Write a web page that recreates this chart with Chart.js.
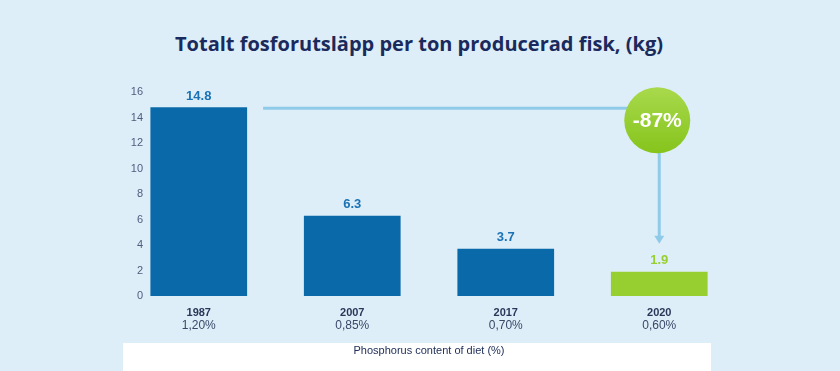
<!DOCTYPE html>
<html lang="sv">
<head>
  <meta charset="UTF-8" />
  <title>Totalt fosforutsläpp</title>
  <script src="https://cdn.jsdelivr.net/npm/chart.js"></script>
  <style>
    body { margin: 0; background: #ddeef8; }
    .wrap { position: relative; width: 840px; height: 371px; }
    h1 {
      position: absolute; left: 0; top: 30px; width: 838px; margin: 0;
      text-align: center; font: bold 20px "Open Sans", sans-serif; line-height: 28px;
      color: #1b2a5c;
    }
    /* vit ruta bakom axeltiteln */
    .note-box { position: absolute; left: 123px; top: 343px; width: 588px; height: 28px; background: #ffffff; }
    canvas { position: absolute; left: 0; top: 0; }
  </style>
</head>
<body>
<div class="wrap">
  <h1>Totalt fosforutsläpp per ton producerad fisk, (kg)</h1>
  <div class="note-box"></div>
  <canvas id="fosforChart" width="840" height="371"></canvas>
</div>

<script>
  const years = ['1987', '2007', '2017', '2020'];
  const dietPct = ['1,20%', '0,85%', '0,70%', '0,60%'];
  const utslapp = [14.8, 6.3, 3.7, 1.9];
  const yTicks = [0, 2, 4, 6, 8, 10, 12, 14, 16];

  const blue = '#0a6aa9';
  const green = '#98cf30';
  const arrowColor = '#8fcbe9';
  const barColors = utslapp.map((v, i) => i === utslapp.length - 1 ? green : blue);

  // y-etiketter ligger innanför plotytan i originalet, så de ritas här
  const yLabels = {
    id: 'yLabels',
    afterDraw(chart) {
      const ctx = chart.ctx;
      const y = chart.scales.y;
      ctx.save();
      ctx.font = '11px Arial, "Liberation Sans"';
      ctx.fillStyle = '#4f5d7e';
      ctx.textAlign = 'right';
      ctx.textBaseline = 'middle';
      yTicks.forEach(v => {
        ctx.fillText(String(v), chart.chartArea.left + 21, y.getPixelForValue(v));
      });
      ctx.restore();
    }
  };

  // värden ovanför staplarna
  const valueLabels = {
    id: 'valueLabels',
    afterDatasetsDraw(chart) {
      const ctx = chart.ctx;
      const meta = chart.getDatasetMeta(0);
      ctx.save();
      ctx.font = 'bold 13px Arial, "Liberation Sans"';
      ctx.textAlign = 'center';
      ctx.textBaseline = 'middle';
      meta.data.forEach((bar, i) => {
        ctx.fillStyle = i === utslapp.length - 1 ? green : '#1a72b5';
        ctx.fillText(utslapp[i].toFixed(1), bar.x, bar.y - 11);
      });
      ctx.restore();
    }
  };

  // pil från första stapeln till sista, med procentcirkel
  const changeArrow = {
    id: 'changeArrow',
    afterDatasetsDraw(chart) {
      const ctx = chart.ctx;
      const meta = chart.getDatasetMeta(0);
      const first = meta.data[0];
      const last = meta.data[meta.data.length - 1];
      const y = chart.scales.y;
      const lineY = y.getPixelForValue(utslapp[0]) + 1;
      const startX = first.x + first.width / 2 + 16;
      const cx = last.x - 2;
      const cy = lineY + 12;
      const r = 33;
      const tipY = y.getPixelForValue(utslapp[utslapp.length - 1]) - 28;

      ctx.save();
      ctx.strokeStyle = arrowColor;
      ctx.lineWidth = 3;
      ctx.beginPath();
      ctx.moveTo(startX, lineY);
      ctx.lineTo(cx, lineY);
      ctx.moveTo(last.x, cy);
      ctx.lineTo(last.x, tipY - 6);
      ctx.stroke();

      ctx.fillStyle = arrowColor;
      ctx.beginPath();
      ctx.moveTo(last.x - 5, tipY - 8);
      ctx.lineTo(last.x + 5, tipY - 8);
      ctx.lineTo(last.x, tipY);
      ctx.closePath();
      ctx.fill();

      const grad = ctx.createLinearGradient(0, cy - r, 0, cy + r);
      grad.addColorStop(0, '#a8d94c');
      grad.addColorStop(1, '#86c41c');
      ctx.fillStyle = grad;
      ctx.beginPath();
      ctx.arc(cx, cy, r, 0, Math.PI * 2);
      ctx.fill();

      const change = Math.round((utslapp[utslapp.length - 1] - utslapp[0]) / utslapp[0] * 100);
      ctx.fillStyle = '#ffffff';
      ctx.font = 'bold 21px Arial, "Liberation Sans"';
      ctx.textAlign = 'center';
      ctx.textBaseline = 'middle';
      ctx.fillText(change + '%', cx, cy + 1);
      ctx.restore();
    }
  };

  const config = {
    type: 'bar',
    data: {
      labels: years,
      datasets: [{
        data: utslapp,
        backgroundColor: barColors,
        barPercentage: 0.63,
        categoryPercentage: 1
      }]
    },
    options: {
      responsive: false,
      animation: false,
      layout: { padding: { left: 122, right: 104, top: 92, bottom: 0 } },
      plugins: {
        legend: { display: false },
        tooltip: { enabled: false },
        title: { display: false }
      },
      scales: {
        y: {
          min: 0,
          max: 16,
          afterFit: (scale) => { scale.width = 0; },
          grid: { display: false, drawTicks: false },
          border: { display: false },
          ticks: { display: false }
        },
        x: {
          grid: { display: false, drawTicks: false },
          border: { display: false },
          afterFit: (scale) => { scale.height = 22; },
          ticks: {
            padding: 10,
            color: '#2a3758',
            font: { family: 'Arial', size: 11, weight: 'bold' }
          }
        },
        x2: {
          type: 'category',
          position: 'bottom',
          labels: dietPct,
          grid: { display: false, drawTicks: false },
          border: { display: false },
          afterFit: (scale) => { scale.height = 53; },
          ticks: {
            padding: 0,
            color: '#3a4868',
            font: { family: 'Arial', size: 12 }
          },
          title: {
            display: true,
            text: 'Phosphorus content of diet (%)',
            color: '#22305a',
            font: { family: 'Arial', size: 11 },
            padding: { top: 5, bottom: 13 }
          }
        }
      }
    },
    plugins: [yLabels, valueLabels, changeArrow]
  };

  new Chart(document.getElementById('fosforChart'), config);
</script>
</body>
</html>
